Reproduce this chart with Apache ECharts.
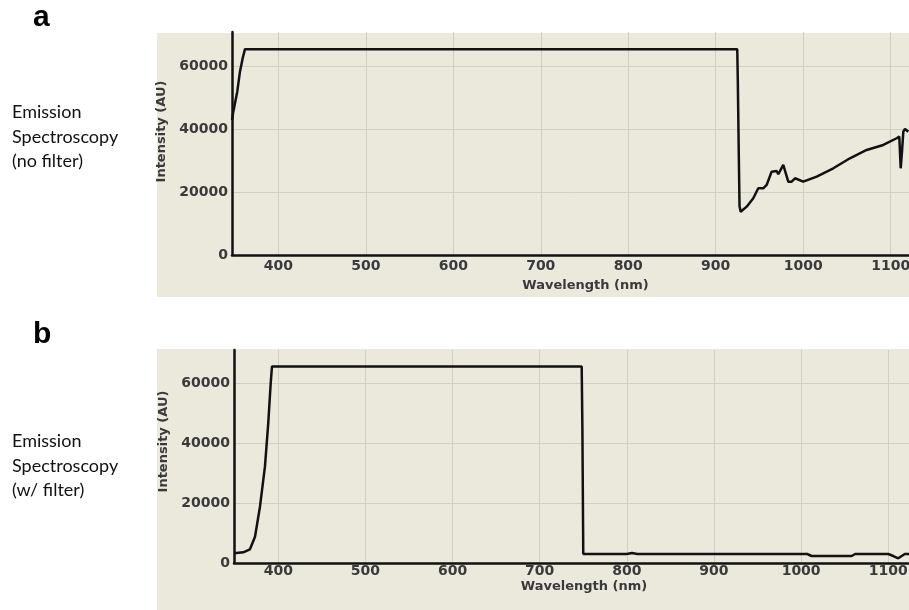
<!DOCTYPE html>
<html>
<head>
<meta charset="utf-8">
<title>Emission Spectroscopy</title>
<script src="https://cdn.jsdelivr.net/npm/echarts@6/dist/echarts.min.js"></script>
<style>
  html, body { margin: 0; padding: 0; background: #fff; }
  #chart { width: 909px; height: 610px; }
</style>
</head>
<body>
<div id="chart"></div>
<script>
// tick values shared by both panels
var waveTicks = [400, 500, 600, 700, 800, 900, 1000, 1100]
var intTicks = [0, 20000, 40000, 60000]

// (a) no filter
var noFilterWave = [347.1, 348.6, 353.1, 356.2, 359.3, 361.9, 924.6, 925.2, 926.2, 927.2, 928.5,
	935.4, 942.9, 948.6, 954.3, 958.2, 963.9, 969.6, 971.5, 977.2, 982.9, 986.8, 990.6, 1000,
	1015.4, 1034.4, 1053.4, 1072.5, 1091.5, 1106.8, 1109.8, 1111.4, 1112.9, 1114.4, 1116.3, 1120.1]
var noFilterInt = [43000, 45640, 52010, 58380, 62650, 65535, 65535, 56000, 35000, 15500, 13790,
	15390, 18060, 21240, 21240, 22300, 26530, 26750, 25700, 28670, 23350, 23350, 24430, 23350,
	24940, 27610, 30800, 33440, 35040, 37170, 37680, 27610, 32900, 39270, 40130, 39270]

// (b) with filter
var filterWave = [349.2, 359.8, 367.5, 373.3, 379, 384.7, 388.5, 391.3, 392.8, 748.2, 749, 750,
	800, 806, 812, 1007, 1012, 1058, 1062, 1100, 1105.8, 1111.5, 1115.4, 1119, 1123.8]
var filterInt = [3230, 3560, 4560, 8770, 18770, 32100, 46560, 59900, 65535, 65535, 45000, 3000,
	3000, 3300, 3000, 3000, 2330, 2330, 3000, 3000, 2330, 1560, 2330, 3000, 3000]

function pairs(xs, ys) {
	return xs.map(function (x, i) { return [x, ys[i]] })
}

var labelColor = '#3a3a3a'
var gridColor = '#cfd0c2'
var plain = function (v) { return String(v) }

function makeX(gridIndex, min, max, labelMargin, nameGap, namePad) {
	return {
		type: 'value',
		gridIndex: gridIndex,
		min: min,
		max: max,
		name: 'Wavelength (nm)',
		nameLocation: 'middle',
		nameGap: nameGap,
		nameTextStyle: { color: labelColor, fontFamily: 'DejaVu Sans', fontWeight: 'bold', fontSize: 13, padding: [0, 0, 0, namePad] },
		axisLine: { onZero: false, lineStyle: { color: '#111', width: 2.5 } },
		axisTick: { show: false, customValues: waveTicks },
		axisLabel: { customValues: waveTicks, formatter: plain, margin: labelMargin, color: labelColor, fontFamily: 'DejaVu Sans', fontWeight: 'bold', fontSize: 14 },
		splitLine: { show: true, lineStyle: { color: gridColor, width: 1 } },
	}
}

function makeY(gridIndex, nameGap, namePad) {
	return {
		type: 'value',
		gridIndex: gridIndex,
		min: 0,
		max: 71000,
		name: 'Intensity (AU)',
		nameLocation: 'middle',
		nameGap: nameGap,
		nameTextStyle: { color: labelColor, fontFamily: 'DejaVu Sans', fontWeight: 'bold', fontSize: 13, padding: [0, 0, 0, namePad] },
		axisLine: { show: true, onZero: false, lineStyle: { color: '#111', width: 2.5 } },
		axisTick: { show: false, customValues: intTicks },
		axisLabel: { customValues: intTicks, formatter: plain, margin: 4, color: labelColor, fontFamily: 'DejaVu Sans', fontWeight: 'bold', fontSize: 14 },
		splitLine: { show: true, lineStyle: { color: gridColor, width: 1 } },
	}
}

var chart = echarts.init(document.getElementById('chart'))
var option = {
	backgroundColor: '#ffffff',
	animation: false,
	graphic: [
		{ type: 'rect', z: -10, shape: { x: 157, y: 33, width: 752, height: 264 }, style: { fill: '#ebe8dc' } },
		{ type: 'rect', z: -10, shape: { x: 157, y: 349, width: 752, height: 261 }, style: { fill: '#ebe8dc' } },
		{ type: 'text', x: 33, y: 17.5, style: { text: 'a', font: 'bold 30px "Liberation Sans"', fill: '#000', verticalAlign: 'middle' } },
		{ type: 'text', x: 33, y: 334.5, style: { text: 'b', font: 'bold 30px "Liberation Sans"', fill: '#000', verticalAlign: 'middle' } },
		{ type: 'text', x: 12, y: 100, style: { text: 'Emission\nSpectroscopy\n(no filter)', font: '18px Lato', lineHeight: 24.5, fill: '#111', verticalAlign: 'top' } },
		{ type: 'text', x: 12, y: 429, style: { text: 'Emission\nSpectroscopy\n(w/ filter)', font: '18px Lato', lineHeight: 24.5, fill: '#111', verticalAlign: 'top' } },
	],
	grid: [
		{ left: 232, top: 32, right: 0, height: 223, outerBoundsMode: 'none' },
		{ left: 234, top: 350, right: 0, height: 213, outerBoundsMode: 'none' },
	],
	xAxis: [
		makeX(0, 347.1, 1120.9, 4, 24, 30),
		makeX(1, 349.2, 1123.8, 1, 17, 25),
	],
	yAxis: [
		makeY(0, 50, 24),
		makeY(1, 50, 30),
	],
	series: [
		{
			name: 'no filter',
			type: 'line',
			xAxisIndex: 0,
			yAxisIndex: 0,
			showSymbol: false,
			lineStyle: { color: '#111', width: 2.5 },
			data: pairs(noFilterWave, noFilterInt),
		},
		{
			name: 'w/ filter',
			type: 'line',
			xAxisIndex: 1,
			yAxisIndex: 1,
			showSymbol: false,
			lineStyle: { color: '#111', width: 2.5 },
			data: pairs(filterWave, filterInt),
		},
	],
}
chart.setOption(option)
</script>
</body>
</html>
